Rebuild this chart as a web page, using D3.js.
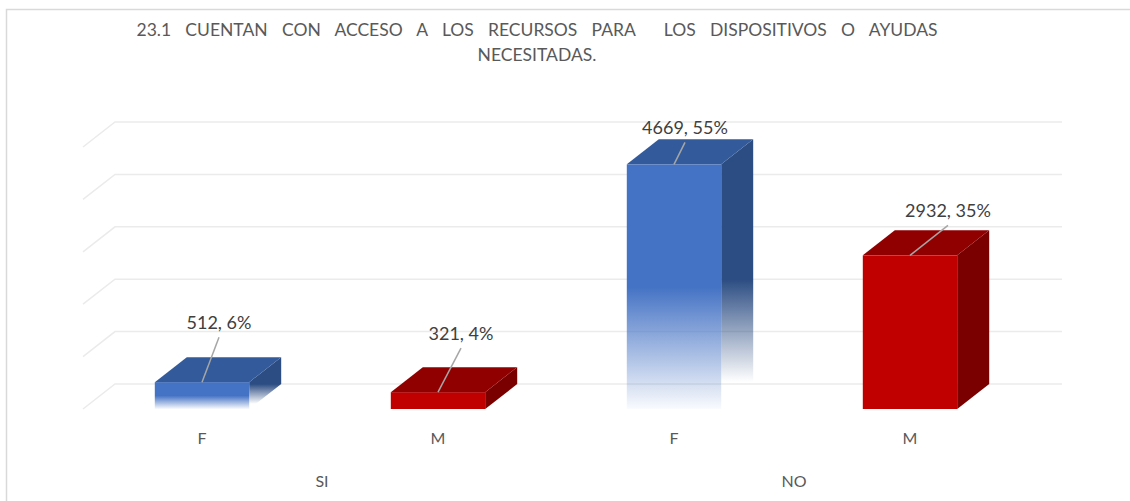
<!DOCTYPE html>
<html>
<head>
<meta charset="utf-8">
<script src="https://cdn.jsdelivr.net/npm/d3@7"></script>
<style>
  body { margin: 0; background: #fff; }
  text { font-family: Lato, "Open Sans", sans-serif; }
  .title { white-space: pre; }
</style>
</head>
<body>
<div id="chart"></div>
<script>
// data
var groups = ["SI", "SI", "NO", "NO"];
var sexes = ["F", "M", "F", "M"];
var counts = [512, 321, 4669, 2932];
var percents = ["6%", "4%", "55%", "35%"];
var yTicks = [0, 1000, 2000, 3000, 4000, 5000];
var groupNames = ["SI", "NO"];

var titleLines = ["23.1 CUENTAN CON ACCESO A LOS RECURSOS PARA  LOS DISPOSITIVOS O AYUDAS", "NECESITADAS."];

var W = 1130, H = 501;
var depthX = 32, depthY = 25;   // 3d depth offset
var floorY = 409;               // front baseline

var svg = d3.select("#chart").append("svg")
  .attr("width", W).attr("height", H);

var defs = svg.append("defs");
var gFront = defs.append("linearGradient").attr("id", "blueFront")
  .attr("x1", 0).attr("y1", 0).attr("x2", 0).attr("y2", 1);
gFront.append("stop").attr("offset", "0").attr("stop-color", "#4472C4");
gFront.append("stop").attr("offset", "0.5").attr("stop-color", "#4472C4");
gFront.append("stop").attr("offset", "1").attr("stop-color", "#4472C4").attr("stop-opacity", 0.03);
var gSide = defs.append("linearGradient").attr("id", "blueSide")
  .attr("x1", 0).attr("y1", 0).attr("x2", 0).attr("y2", 1);
gSide.append("stop").attr("offset", "0").attr("stop-color", "#2C4D83");
gSide.append("stop").attr("offset", "0.52").attr("stop-color", "#2C4D83");
gSide.append("stop").attr("offset", "0.9").attr("stop-color", "#2C4D83").attr("stop-opacity", 0);

// chart border
svg.append("path")
  .attr("d", "M6.5," + H + "V9.5H" + W)
  .attr("fill", "none").attr("stroke", "#d9d9d9").attr("stroke-width", 1.5);

// title (first line justified to its width with wider word gaps)
svg.selectAll(".title")
  .data(titleLines)
  .enter().append("text")
  .attr("class", "title")
  .attr("x", 537)
  .attr("y", function(d, i) { return 36 + i * 25; })
  .attr("text-anchor", "middle")
  .attr("fill", "#595959")
  .style("font-size", "17.5px")
  .text(function(d) { return d; })
  .each(function(d, i) {
    if (i === 0) {
      var len = this.getComputedTextLength();
      var nSp = d.split(" ").length - 1;
      d3.select(this).style("word-spacing", Math.max(0, (801 - len) / nSp) + "px");
    }
  });

var x = d3.scaleBand()
  .domain(d3.range(counts.length))
  .range([84, 1028])
  .paddingInner(0.6)
  .paddingOuter(0.3);

// y scale for the back wall
var y = d3.scaleLinear()
  .domain([0, 5000])
  .range([floorY - depthY, 122]);

var h = function(v) { return y(0) - y(v); };

// gridlines on back wall + floor diagonals
var grid = svg.append("g");
grid.selectAll("path")
  .data(yTicks)
  .enter().append("path")
  .attr("d", function(d) {
    return "M" + (115 - depthX) + "," + (y(d) + depthY) + "L115," + y(d) + "H1062";
  })
  .attr("fill", "none")
  .attr("stroke", "#ebebeb")
  .attr("stroke-width", 1.5);

var colors = { F: { front: "url(#blueFront)", top: "#335A9A", side: "url(#blueSide)" },
               M: { front: "#C00000", top: "#900000", side: "#7A0000" } };

var bars = svg.selectAll(".bar")
  .data(counts)
  .enter().append("g")
  .attr("class", "bar");

bars.append("path")
  .attr("d", function(d, i) {
    var x1 = x(i) + x.bandwidth(), t = floorY - h(d);
    return "M" + x1 + "," + t + "l" + depthX + "," + (-depthY) + "V" + (floorY - depthY) +
      "l" + (-depthX) + "," + depthY + "Z";
  })
  .attr("fill", function(d, i) { return colors[sexes[i]].side; });

bars.append("rect")
  .attr("x", function(d, i) { return x(i); })
  .attr("y", function(d) { return floorY - h(d); })
  .attr("width", x.bandwidth())
  .attr("height", function(d) { return h(d); })
  .attr("fill", function(d, i) { return colors[sexes[i]].front; });

bars.append("path")
  .attr("d", function(d, i) {
    var x0 = x(i), t = floorY - h(d);
    return "M" + x0 + "," + t + "l" + depthX + "," + (-depthY) + "h" + x.bandwidth() +
      "l" + (-depthX) + "," + depthY + "Z";
  })
  .attr("fill", function(d, i) { return colors[sexes[i]].top; });

// data labels with leader lines
var labelOffset = [[17, -53], [23, -52], [11, -30], [38, -38]];

bars.append("line")
  .attr("x1", function(d, i) { return x(i) + x.bandwidth() / 2; })
  .attr("y1", function(d) { return floorY - h(d); })
  .attr("x2", function(d, i) { return x(i) + x.bandwidth() / 2 + labelOffset[i][0]; })
  .attr("y2", function(d, i) { return floorY - h(d) + labelOffset[i][1] + 8; })
  .attr("stroke", "#a6a6a6")
  .attr("stroke-width", 1.5);

bars.append("text")
  .attr("x", function(d, i) { return x(i) + x.bandwidth() / 2 + labelOffset[i][0]; })
  .attr("y", function(d, i) { return floorY - h(d) + labelOffset[i][1]; })
  .attr("text-anchor", "middle")
  .attr("fill", "#404040")
  .style("font-size", "18px")
  .text(function(d, i) { return d + ", " + percents[i]; });

// category axis
svg.selectAll(".cat")
  .data(sexes)
  .enter().append("text")
  .attr("class", "cat")
  .attr("x", function(d, i) { return x(i) + x.bandwidth() / 2; })
  .attr("y", 444)
  .attr("text-anchor", "middle")
  .attr("fill", "#595959")
  .style("font-size", "16px")
  .text(function(d) { return d; });

svg.selectAll(".grp")
  .data(groupNames)
  .enter().append("text")
  .attr("class", "grp")
  .attr("x", function(d) {
    var idx = d3.range(groups.length).filter(function(i) { return groups[i] === d; });
    return (x(idx[0]) + x(idx[idx.length - 1]) + x.bandwidth()) / 2 + 2;
  })
  .attr("y", 487)
  .attr("text-anchor", "middle")
  .attr("fill", "#595959")
  .style("font-size", "16px")
  .text(function(d) { return d; });
</script>
</body>
</html>
